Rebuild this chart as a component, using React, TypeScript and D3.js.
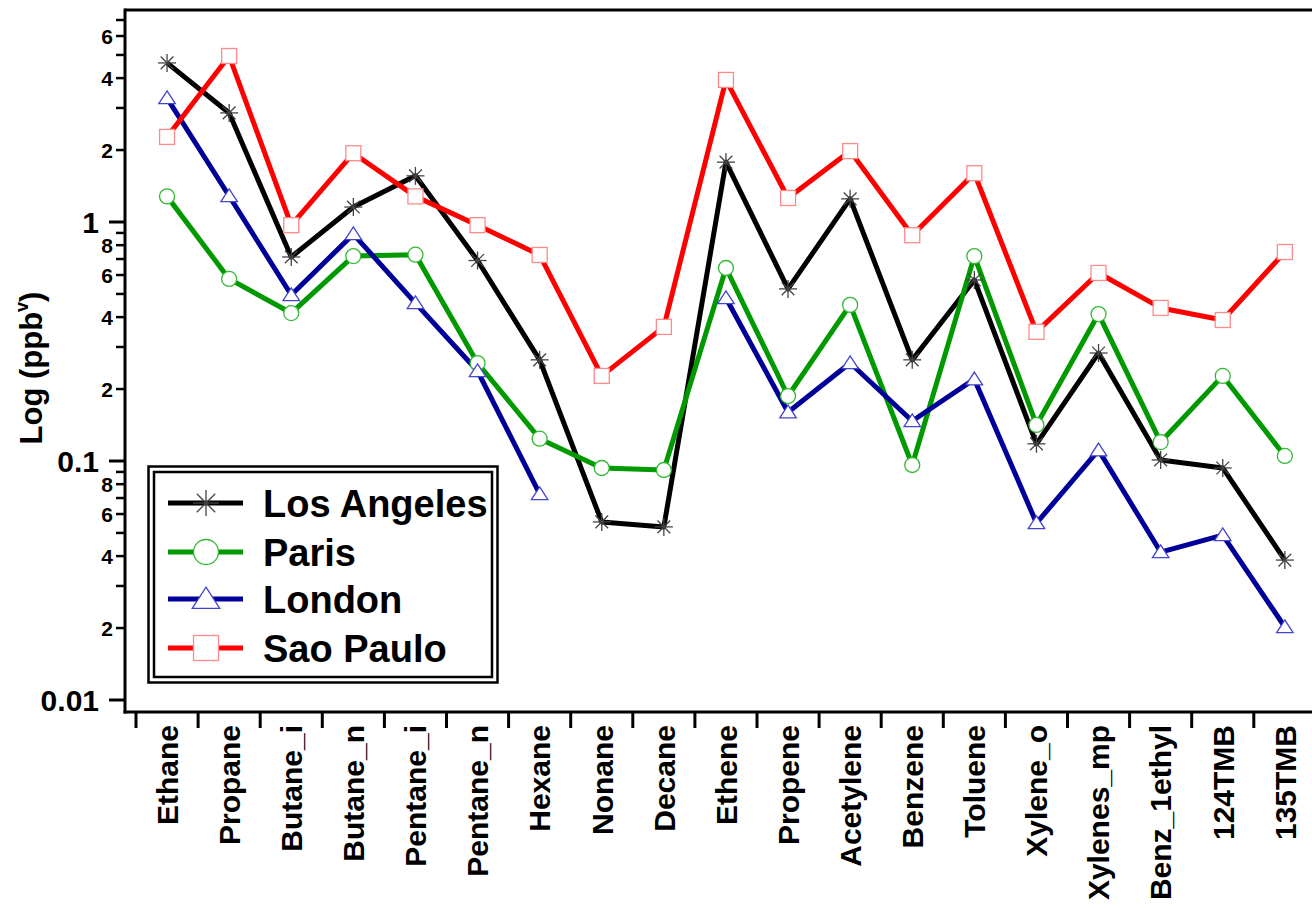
import React from "react";
import * as d3 from "d3";

// Compound names along the x axis
const categories = [
  "Ethane", "Propane", "Butane_i", "Butane_n", "Pentane_i", "Pentane_n",
  "Hexane", "Nonane", "Decane", "Ethene", "Propene", "Acetylene",
  "Benzene", "Toluene", "Xylene_o", "Xylenes_mp", "Benz_1ethyl", "124TMB", "135TMB",
];

// Mixing ratios (ppbv) per city
const losAngeles = [4.63, 2.86, 0.714, 1.155, 1.56, 0.69, 0.265, 0.0556, 0.053, 1.78, 0.525, 1.25, 0.265, 0.572, 0.118, 0.283, 0.101, 0.0935, 0.0385];
const paris = [1.28, 0.578, 0.416, 0.72, 0.73, 0.257, 0.124, 0.0935, 0.0917, 0.642, 0.187, 0.45, 0.0962, 0.72, 0.1415, 0.412, 0.12, 0.227, 0.105];
const london = [3.3, 1.285, 0.495, 0.89, 0.458, 0.238, 0.0728, null, null, 0.481, 0.16, 0.257, 0.147, 0.22, 0.055, 0.111, 0.0416, 0.049, 0.0202];
const saoPaulo = [2.27, 4.95, 0.97, 1.94, 1.28, 0.97, 0.728, 0.227, 0.364, 3.93, 1.26, 1.98, 0.88, 1.6, 0.347, 0.612, 0.437, 0.389, 0.749];

const seriesNames = ["Los Angeles", "Paris", "London", "Sao Paulo"];
const majorTicks = [0.01, 0.1, 1];

type Marker = "asterisk" | "circle" | "triangle" | "square";
const seriesStyle: { line: string; stroke: string; marker: Marker }[] = [
  { line: "#000000", stroke: "#444444", marker: "asterisk" },
  { line: "#009900", stroke: "#33b833", marker: "circle" },
  { line: "#000099", stroke: "#4444cc", marker: "triangle" },
  { line: "#ff0000", stroke: "#ff8a8a", marker: "square" },
];

const FONT = "'Liberation Sans', Arial, Helvetica, sans-serif";

const axisLeft = 125;
const axisBottom = 712;
const axisTop = 10;
const rightEdge = 1312;

function MarkerShape({ kind, x, y, s, stroke }: { kind: Marker; x: number; y: number; s: number; stroke: string }) {
  if (kind === "asterisk") {
    const r = s;
    const d = r * Math.SQRT1_2;
    return (
      <g stroke={stroke} strokeWidth={1.3}>
        <line x1={x - r} y1={y} x2={x + r} y2={y} />
        <line x1={x} y1={y - r} x2={x} y2={y + r} />
        <line x1={x - d} y1={y - d} x2={x + d} y2={y + d} />
        <line x1={x - d} y1={y + d} x2={x + d} y2={y - d} />
      </g>
    );
  }
  if (kind === "circle") {
    return <circle cx={x} cy={y} r={s} fill="#fff" stroke={stroke} strokeWidth={1.3} />;
  }
  if (kind === "triangle") {
    const w = s * 1.1;
    const top = y - s * 0.95;
    const bot = y + s * 0.75;
    return <path d={`M${x},${top}L${x + w},${bot}L${x - w},${bot}Z`} fill="#fff" stroke={stroke} strokeWidth={1.3} />;
  }
  return <rect x={x - s} y={y - s} width={2 * s} height={2 * s} fill="#fff" stroke={stroke} strokeWidth={1.3} />;
}

export default function App() {
  const x = d3.scaleBand<string>().domain(categories).range([136, 136 + 62.1 * categories.length]).padding(0);
  const cx = (c: string) => (x(c) as number) + x.bandwidth() / 2;
  const y = d3.scaleLog().domain([0.01, 1]).range([700, 222]);

  const allSeries = [losAngeles, paris, london, saoPaulo];

  const line = d3
    .line<number | null>()
    .defined((d) => d != null)
    .x((_, i) => cx(categories[i]))
    .y((d) => y(d as number));

  // Minor ticks for each decade, kept inside the axis
  const minorTicks: number[] = [];
  majorTicks.forEach((m) => {
    for (let k = 2; k <= 9; k++) {
      const v = m * k;
      if (y(v) >= axisTop + 5) minorTicks.push(v);
    }
  });

  const legendRows = [503, 552, 599, 648];

  return (
    <svg
      width={1312}
      height={908}
      style={{ position: "absolute", left: 0, top: 0, background: "#fff" }}
      fontFamily={FONT}
      fontWeight="bold"
    >
      {/* frame */}
      <line x1={axisLeft} y1={axisTop} x2={rightEdge} y2={axisTop} stroke="#000" strokeWidth={3} />
      <line x1={axisLeft} y1={axisTop - 1.5} x2={axisLeft} y2={axisBottom + 1.5} stroke="#000" strokeWidth={3} />
      <line x1={axisLeft - 1.5} y1={axisBottom} x2={rightEdge} y2={axisBottom} stroke="#000" strokeWidth={3} />

      {/* y axis ticks */}
      {majorTicks.map((v) => (
        <g key={"M" + v}>
          <line x1={axisLeft - 16} y1={y(v)} x2={axisLeft} y2={y(v)} stroke="#000" strokeWidth={3} />
          <text x={99} y={y(v)} dy="0.36em" textAnchor="end" fontSize={30}>
            {String(v)}
          </text>
        </g>
      ))}
      {minorTicks.map((v) => {
        const digit = Math.round(v / Math.pow(10, Math.floor(Math.log10(v) + 1e-9)));
        return (
          <g key={"m" + v}>
            <line x1={axisLeft - 9} y1={y(v)} x2={axisLeft} y2={y(v)} stroke="#000" strokeWidth={2.5} />
            {digit % 2 === 0 && (
              <text x={113} y={y(v)} dy="0.36em" textAnchor="end" fontSize={21}>
                {digit}
              </text>
            )}
          </g>
        );
      })}

      {/* y axis title */}
      <text transform="translate(42,368) rotate(-90)" textAnchor="middle" fontSize={31}>
        Log (ppb<tspan fontSize={18} dy={-14}>v</tspan>
        <tspan dy={14}>)</tspan>
      </text>

      {/* x axis ticks and labels */}
      {categories.map((c) => (
        <line key={"t" + c} x1={x(c) as number} y1={axisBottom} x2={x(c) as number} y2={axisBottom + 16} stroke="#000" strokeWidth={3} />
      ))}
      {categories.map((c) => (
        <text
          key={"l" + c}
          transform={`translate(${cx(c)},725) rotate(-90)`}
          textAnchor="end"
          dy="0.36em"
          fontSize={30}
        >
          {c}
        </text>
      ))}

      {/* series lines */}
      {allSeries.map((s, i) => (
        <path key={"p" + i} d={line(s) || ""} fill="none" stroke={seriesStyle[i].line} strokeWidth={5} strokeLinejoin="round" />
      ))}

      {/* series markers */}
      {allSeries.map((s, i) =>
        s.map((v, j) =>
          v == null ? null : (
            <MarkerShape
              key={`mk${i}-${j}`}
              kind={seriesStyle[i].marker}
              x={cx(categories[j])}
              y={y(v)}
              s={seriesStyle[i].marker === "asterisk" ? 9 : 7.5}
              stroke={seriesStyle[i].stroke}
            />
          )
        )
      )}

      {/* legend */}
      <rect x={148.5} y={466.5} width={349} height={216} fill="#fff" stroke="#000" strokeWidth={2.5} />
      <rect x={154} y={472} width={338} height={205} fill="none" stroke="#000" strokeWidth={2.5} />
      {seriesNames.map((name, i) => (
        <g key={"lg" + name}>
          <line x1={168} y1={legendRows[i]} x2={243} y2={legendRows[i]} stroke={seriesStyle[i].line} strokeWidth={5} />
          <MarkerShape
            kind={seriesStyle[i].marker}
            x={206}
            y={legendRows[i]}
            s={seriesStyle[i].marker === "asterisk" ? 13 : 12.5}
            stroke={seriesStyle[i].stroke}
          />
          <text x={263} y={legendRows[i] + 14} fontSize={38}>
            {name}
          </text>
        </g>
      ))}
    </svg>
  );
}
